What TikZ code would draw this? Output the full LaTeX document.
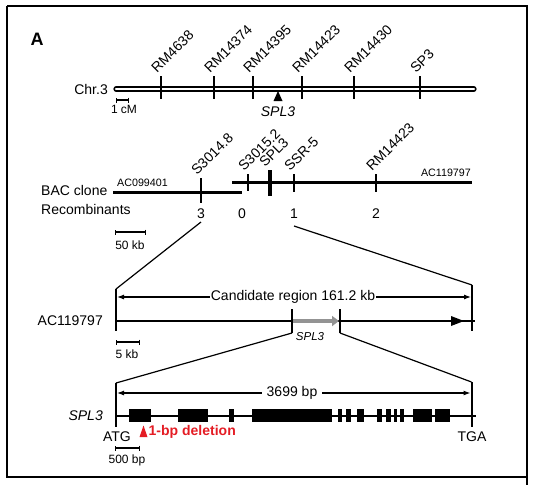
\documentclass[tikz,border=0pt]{standalone}
\usepackage{fontspec}
\setmainfont{Liberation Sans}
\usetikzlibrary{arrows.meta}
\definecolor{delred}{RGB}{228,28,36}

\tikzset{
  lbl/.style={font=\fontsize{14}{16}\selectfont, inner sep=0pt},
  smalllbl/.style={font=\fontsize{12}{14}\selectfont, inner sep=0pt},
  aclbl/.style={font=\fontsize{10.7}{12}\selectfont, inner sep=0pt},
  marker/.style={lbl, rotate=45, anchor=base west},
  scalebar/.style={line width=1.2pt, {Bar[width=5pt]}-{Bar[width=5pt]}},
  zoomline/.style={line width=1.2pt},
  spanline/.style={line width=1.1pt, {Latex[length=7pt,width=5pt]}-{Latex[length=7pt,width=5pt]}},
}

\begin{document}
\begin{tikzpicture}[x=1pt,y=-1pt]
\useasboundingbox (0,0) rectangle (534,485);

% Frame of the panel
\draw[line width=1.2pt] (7,6) -- (527,6) -- (527,485);
\draw[line width=1.2pt] (7,6) -- (7,477) -- (527,477);
\node[inner sep=0pt, font=\fontsize{18}{20}\selectfont\bfseries] (panel) at (37,39) {A};

% Chromosome 3 with markers
\coordinate (chrL) at (116,89);
\coordinate (chrR) at (474,89);
\node[lbl, anchor=east] (chr) at (108,89) {Chr.3};
\draw[line width=1.5pt, double=white, double distance=2.2pt, line cap=round] (chrL) -- (chrR);
\foreach \x/\name in {161/RM4638, 214/RM14374, 253/RM14395, 302/RM14423, 354/RM14430, 420/SP3} {
  \draw[line width=2.6pt] (\x,76) -- (\x,99);
  \node[marker] (mk\name) at (\x-4,74) {\name};
}
\fill (278,91) -- (282.5,101) -- (273.5,101) -- cycle;
\node[lbl, font=\fontsize{14}{16}\selectfont\itshape] (splChr) at (278,112) {SPL3};
\draw[scalebar] (116,100) -- (129,100);
\node[smalllbl] (cM) at (124,109) {1 cM};

% BAC clones and recombinants
\node[lbl, anchor=west] (bac) at (41,190) {BAC clone};
\node[lbl, anchor=west] (rec) at (41,209) {Recombinants};
\draw[line width=3pt] (113,192) -- (242,192);
\draw[line width=3pt] (232,182.5) -- (472,182.5);
\node[aclbl, anchor=south west] (bacA) at (117,187) {AC099401};
\node[aclbl, anchor=south east] (bacB) at (471,177) {AC119797};
\foreach \x/\t/\b/\w/\name in {201/178/203/2.2pt/S3014.8, 248/174/191/2.2pt/S3015.2, 270/170/196/4.5pt/SPL3, 294/174/192/2.2pt/SSR-5, 376/174/192/2.2pt/RM14423} {
  \draw[line width=\w] (\x,\t) -- (\x,\b);
}
\node[marker] (mkS1) at (197,176) {S3014.8};
\node[marker] (mkS2) at (244,172) {S3015.2};
\node[marker] (mkSpl) at (265,168) {SPL3};
\node[marker] (mkSSR) at (290,172) {SSR-5};
\node[marker] (mkRM) at (372,172) {RM14423};
\foreach \x/\n in {201/3, 242/0, 294/1, 376/2}
  \node[lbl] (n\n) at (\x,214) {\n};
\draw[scalebar] (115,232) -- (146,232);
\node[smalllbl] (kb50) at (130,245) {50 kb};

% Zoom into candidate region
\coordinate (zA) at (201,222);
\coordinate (zB) at (294,226);
\coordinate (cL) at (116,289);
\coordinate (cR) at (472,285);
\draw[zoomline] (zA) -- (cL);
\draw[zoomline] (zB) -- (cR);

% Candidate region
\draw[line width=2pt] (cL) -- (116,331);
\draw[line width=2pt] (cR) -- (472,331);
\draw[spanline] (117,297) -- (471,297);
\node[lbl, fill=white, inner xsep=1pt, inner ysep=1pt] (cand) at (293,297) {Candidate region 161.2 kb};
\node[lbl, anchor=east] (acB) at (103,321) {AC119797};
\draw[line width=2.2pt] (116,321) -- (475,321);
\draw[gray!85, line width=4.5pt, -{Triangle[length=7pt,width=10pt]}] (292,321) -- (339,321);
\coordinate (gL) at (292,333);
\coordinate (gR) at (340,333);
\draw[line width=2pt] (292,309) -- (gL);
\draw[line width=2pt] (340,309) -- (gR);
\fill (451,316) -- (464,321) -- (451,326) -- cycle;
\node[smalllbl, font=\fontsize{11.5}{13}\selectfont\itshape] (splCand) at (310,337) {SPL3};
\draw[scalebar] (116,342) -- (140,342);
\node[smalllbl] (kb5) at (127,354) {5 kb};

% Zoom into the gene
\coordinate (eL) at (116,383);
\coordinate (eR) at (471.5,382);
\draw[zoomline] (gL) -- (eL);
\draw[zoomline] (gR) -- (eR);

% Gene structure of SPL3
\draw[line width=2pt] (eL) -- (116,427);
\draw[line width=2pt] (eR) -- (471.5,427);
\draw[spanline] (117,393) -- (470.5,393);
\node[lbl, fill=white, inner xsep=5pt, inner ysep=1pt] (bp) at (292,393) {3699 bp};
\node[lbl, anchor=east, font=\fontsize{14}{16}\selectfont\itshape] (splGene) at (103,415.5) {SPL3};
\draw[line width=2pt] (116,415.5) -- (476,415.5);
\foreach \a/\b in {129/151, 178/208, 229/234, 252/332, 338/342, 346/351, 357/364, 377/382, 386/391, 393.5/397, 400/404, 413/432, 434.5/450}
  \fill (\a,409) rectangle (\b,422);
\node[lbl] (atg) at (117,437) {ATG};
\node[lbl] (tga) at (472,437) {TGA};
\fill[delred] (143.5,425.5) -- (147.5,437) -- (139.5,437) -- cycle;
\node[lbl, anchor=west, text=delred, font=\fontsize{14}{16}\selectfont\bfseries] (del) at (148.5,432) {1-bp deletion};
\draw[scalebar] (115,448) -- (140,448);
\node[smalllbl] (bp500) at (127,460) {500 bp};

\end{tikzpicture}
\end{document}
